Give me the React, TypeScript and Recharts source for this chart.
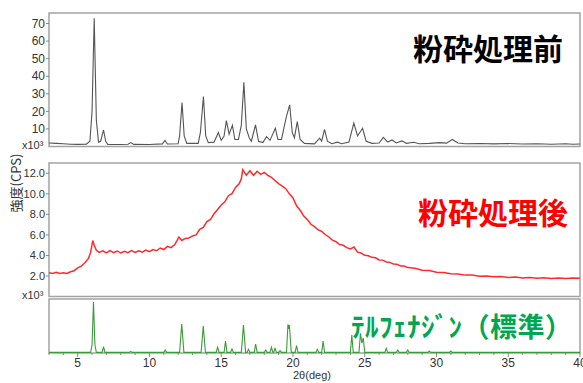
import { LineChart, Line, XAxis, YAxis, ReferenceArea } from "recharts"

// 2θ (deg), intensity (x10^3 CPS)
const beforeMilling: [number, number][] = [
  [3.0, 2.0], [3.5, 1.8], [4.0, 1.6], [4.5, 1.3], [5.0, 1.2], [5.6, 1.3], [5.85, 3], [6.0, 20], [6.15, 73],
  [6.3, 15], [6.45, 2.5], [6.6, 3], [6.8, 9.4], [6.95, 3], [7.1, 1.2], [8.0, 1.1], [8.5, 1.3], [8.7, 2.2],
  [8.9, 1.2], [10.0, 1.1], [10.9, 1.5], [11.08, 3.5], [11.25, 1.4], [12.0, 1.6], [12.1, 6], [12.27, 25],
  [12.42, 6], [12.6, 1.8], [13.4, 1.8], [13.55, 8], [13.76, 28.5], [13.92, 6], [14.1, 2.2], [14.5, 2.5],
  [14.8, 8], [15.0, 3.5], [15.2, 6], [15.36, 14.7], [15.55, 7], [15.78, 12], [15.95, 4], [16.2, 4],
  [16.4, 12], [16.58, 36.5], [16.75, 10], [16.95, 5], [17.1, 3], [17.39, 12.3], [17.6, 3], [17.9, 2.2],
  [18.16, 5.6], [18.4, 3.5], [18.77, 10.4], [18.95, 4], [19.2, 4], [19.54, 17], [19.77, 23.7], [19.95, 8],
  [20.1, 5], [20.3, 14.2], [20.5, 4], [20.8, 1.8], [21.5, 1.5], [21.86, 4.7], [22.0, 3], [22.2, 9.8],
  [22.4, 3], [22.7, 1.6], [23.1, 2.5], [23.4, 1.6], [23.9, 2.5], [24.24, 13.3], [24.5, 6], [24.85, 10.4],
  [25.1, 3], [25.5, 1.8], [26.0, 2], [26.3, 5.2], [26.6, 2.5], [26.9, 3.7], [27.2, 2], [27.6, 3.2],
  [27.9, 1.8], [28.4, 2.4], [28.8, 1.6], [29.5, 1.8], [30.2, 2.2], [30.7, 1.9], [31.1, 4], [31.5, 2],
  [32.0, 1.6], [33.0, 1.7], [34.0, 1.5], [35.0, 1.7], [36.0, 1.4], [37.0, 1.6], [38.0, 1.3], [39.0, 1.6],
  [39.5, 1.3], [40.0, 1.4],
]

const afterMilling: [number, number][] = [
  [3.0, 2.32], [3.25, 2.26], [3.5, 2.36], [3.75, 2.24], [4.0, 2.31], [4.25, 2.25], [4.5, 2.42], [4.75, 2.52],
  [5.0, 2.8], [5.25, 2.96], [5.5, 3.3], [5.75, 3.72], [5.9, 4.3], [6.05, 5.45], [6.15, 5.0], [6.3, 4.5],
  [6.5, 4.3], [6.75, 4.46], [7.0, 4.26], [7.25, 4.48], [7.5, 4.28], [7.75, 4.44], [8.0, 4.24], [8.25, 4.41],
  [8.5, 4.27], [8.75, 4.48], [9.0, 4.3], [9.25, 4.46], [9.5, 4.33], [9.75, 4.52], [10.0, 4.37], [10.25, 4.58],
  [10.5, 4.46], [10.75, 4.73], [11.0, 4.58], [11.25, 4.89], [11.5, 4.76], [11.75, 5.04], [11.9, 5.4],
  [12.05, 5.8], [12.25, 5.46], [12.5, 5.66], [12.75, 5.7], [13.0, 5.9], [13.25, 6.0], [13.5, 6.55],
  [13.75, 6.74], [14.0, 7.3], [14.25, 7.5], [14.5, 8.06], [14.75, 8.48], [15.0, 8.92], [15.25, 9.22],
  [15.5, 9.82], [15.75, 10.02], [16.0, 10.62], [16.25, 10.98], [16.4, 11.45], [16.5, 12.35], [16.75, 11.82],
  [17.0, 12.25], [17.25, 11.8], [17.5, 12.2], [17.75, 11.9], [18.0, 12.08], [18.25, 11.8], [18.5, 11.6],
  [18.75, 11.3], [19.0, 11.0], [19.25, 10.74], [19.5, 10.5], [19.75, 10.0], [20.0, 9.6], [20.25, 8.84],
  [20.5, 8.4], [20.75, 7.84], [21.0, 7.5], [21.25, 7.04], [21.5, 6.8], [21.75, 6.5], [22.0, 6.35],
  [22.25, 6.04], [22.5, 5.8], [22.75, 5.5], [23.0, 5.34], [23.25, 5.06], [23.5, 4.99], [23.75, 4.76],
  [24.0, 4.64], [24.25, 4.82], [24.5, 4.32], [24.75, 4.24], [25.0, 4.02], [25.25, 3.98], [25.5, 3.82],
  [25.75, 3.78], [26.0, 3.57], [26.25, 3.55], [26.5, 3.37], [26.75, 3.33], [27.0, 3.17], [27.25, 3.15],
  [27.5, 2.97], [27.75, 2.98], [28.0, 2.82], [28.5, 2.75], [29.0, 2.57], [29.5, 2.53], [30.0, 2.37],
  [30.5, 2.35], [31.0, 2.22], [31.5, 2.21], [32.0, 2.09], [32.5, 2.09], [33.0, 1.99], [33.5, 2.01],
  [34.0, 1.92], [34.5, 1.95], [35.0, 1.87], [35.5, 1.91], [36.0, 1.82], [36.5, 1.86], [37.0, 1.79],
  [37.5, 1.83], [38.0, 1.77], [38.5, 1.81], [39.0, 1.77], [39.5, 1.81], [40.0, 1.78],
]

const reference: [number, number][] = [
  [3, 0.6], [5.9, 0.6], [6.0, 8], [6.1, 51], [6.2, 8], [6.3, 0.6], [6.7, 0.6], [6.8, 6.3], [6.9, 0.6],
  [8.6, 0.6], [8.7, 1.5], [8.8, 0.6], [11.0, 0.6], [11.1, 3], [11.2, 0.6], [12.1, 0.6], [12.25, 29],
  [12.4, 0.6], [13.6, 0.6], [13.75, 27], [13.9, 0.6], [14.65, 0.6], [14.75, 5.7], [14.85, 0.6],
  [15.2, 0.6], [15.3, 12], [15.4, 0.6], [15.65, 0.6], [15.75, 4], [15.85, 0.6], [16.4, 0.6], [16.55, 28],
  [16.7, 0.6], [16.8, 0.6], [16.9, 3.7], [17.0, 0.6], [17.3, 0.6], [17.4, 9], [17.5, 0.6], [18.0, 0.6],
  [18.1, 3], [18.2, 0.6], [18.4, 0.6], [18.5, 5.7], [18.6, 0.6], [18.65, 0.6], [18.75, 4.7], [18.85, 0.6],
  [19.0, 0.6], [19.1, 2.3], [19.2, 0.6], [19.55, 0.6], [19.65, 28.7], [19.7, 24], [19.75, 28],
  [19.88, 0.6], [20.15, 0.6], [20.25, 7.3], [20.35, 0.6], [21.6, 0.6], [21.7, 3.7], [21.8, 0.6],
  [22.0, 0.6], [22.1, 12], [22.2, 0.6], [24.0, 0.6], [24.1, 18], [24.2, 0.6], [24.6, 0.6], [24.7, 19.7],
  [24.8, 10], [24.9, 15], [25.0, 0.6], [26.4, 0.6], [26.5, 4.7], [26.6, 0.6], [27.2, 0.6], [27.3, 3],
  [27.4, 0.6], [27.9, 0.6], [28.0, 3], [28.1, 0.6], [29.4, 0.6], [29.5, 2], [29.6, 0.6], [30.9, 0.6],
  [31.0, 2], [31.1, 0.6], [40, 0.6],
]

const beforeTicks = [10, 20, 30, 40, 50, 60, 70]
const afterTicks = [2, 4, 6, 8, 10, 12]
const thetaTicks = Array.from({ length: 38 }, (_, i) => i + 3)

const toRows = (pts: [number, number][]) => pts.map(([t, v]) => ({ t, v }))

const FONT = "'Liberation Sans', Arial, sans-serif"
const JP = "'Noto Sans CJK JP', sans-serif"
const FRAME = "#a3a3a3"

function ThetaTick(props: any) {
  const { x, y, payload } = props
  const major = payload.value % 5 === 0
  return (
    <g>
      <line x1={x} x2={x} y1={y} y2={y + (major ? 4 : 2)} stroke="#888" />
      {major && (
        <text x={x} y={y + 14} textAnchor="middle" fontSize={12} fill="#333" fontFamily={FONT}>
          {payload.value}
        </text>
      )}
    </g>
  )
}

const label = (text: string, left: number, top: number, style: any = {}) => (
  <div style={{ position: "absolute", left, top, whiteSpace: "nowrap", ...style }}>{text}</div>
)

export default function App() {
  return (
    <div style={{ position: "absolute", left: 0, top: 0, width: 583, height: 383, background: "#fff", overflow: "hidden" }}>
      <div style={{ position: "absolute", left: 0, top: 0 }}>
        <LineChart width={583} height={150} data={toRows(beforeMilling)} margin={{ top: 13, right: 3, bottom: 3.5, left: 0 }}>
          <XAxis type="number" dataKey="t" domain={[3, 40]} hide allowDataOverflow />
          <YAxis
            type="number"
            domain={[0, 76]}
            ticks={beforeTicks}
            interval={0}
            width={49}
            axisLine={false}
            tickSize={3}
            tickMargin={1}
            tickLine={{ stroke: "#888" }}
            tick={{ fontSize: 12, fill: "#333", fontFamily: FONT }}
          />
          <ReferenceArea x1={3} x2={40} y1={0} y2={76} fill="none" stroke={FRAME} strokeWidth={1.5} />
          <Line type="linear" dataKey="v" stroke="#555" strokeWidth={1.1} dot={false} isAnimationActive={false} />
        </LineChart>
      </div>

      <div style={{ position: "absolute", left: 0, top: 150 }}>
        <LineChart width={583} height={150} data={toRows(afterMilling)} margin={{ top: 13, right: 3, bottom: 3.4, left: 0 }}>
          <XAxis type="number" dataKey="t" domain={[3, 40]} hide allowDataOverflow />
          <YAxis
            type="number"
            domain={[0, 13]}
            ticks={afterTicks}
            interval={0}
            width={49}
            axisLine={false}
            tickSize={3}
            tickMargin={1}
            tickLine={{ stroke: "#888" }}
            tickFormatter={(v: number) => v.toFixed(1)}
            tick={{ fontSize: 11, fill: "#333", fontFamily: FONT }}
          />
          <ReferenceArea x1={3} x2={40} y1={0} y2={13} fill="none" stroke={FRAME} strokeWidth={1.5} />
          <Line type="linear" dataKey="v" stroke="#ff2a2a" strokeWidth={1.5} dot={false} isAnimationActive={false} />
        </LineChart>
      </div>

      <div style={{ position: "absolute", left: 0, top: 290 }}>
        <LineChart width={583} height={93} data={toRows(reference)} margin={{ top: 9, right: 3, bottom: 0, left: 49 }}>
          <XAxis
            type="number"
            dataKey="t"
            domain={[3, 40]}
            ticks={thetaTicks}
            interval={0}
            height={30}
            axisLine={false}
            tickLine={false}
            tickSize={0}
            tickMargin={0}
            tick={<ThetaTick />}
          />
          <YAxis type="number" domain={[0, 54]} hide />
          <ReferenceArea x1={3} x2={40} y1={0} y2={54} fill="none" stroke={FRAME} strokeWidth={1.5} />
          <Line type="linear" dataKey="v" stroke="#3b9b3b" strokeWidth={1.1} dot={false} isAnimationActive={false} />
        </LineChart>
      </div>

      {label("x10³", 22, 139, { fontSize: 11, color: "#333", fontFamily: FONT })}
      {label("x10³", 22, 289, { fontSize: 11, color: "#333", fontFamily: FONT })}
      {label("2θ(deg)", 293, 369, { fontSize: 11, color: "#333", fontFamily: FONT })}
      <div
        style={{
          position: "absolute",
          left: 15,
          top: 183,
          transform: "translate(-50%, -50%) rotate(-90deg)",
          fontSize: 13,
          color: "#333",
          fontFamily: JP,
          whiteSpace: "nowrap",
        }}
      >
        強度(CPS)
      </div>

      {label("粉砕処理前", 413, 27, { fontSize: 30, fontWeight: 700, color: "#000", fontFamily: JP, lineHeight: "40px" })}
      {label("粉砕処理後", 418, 191, { fontSize: 30, fontWeight: 700, color: "#ff0000", fontFamily: JP, lineHeight: "40px" })}
      {label("ﾃﾙﾌｪﾅｼﾞﾝ（標準）", 351, 308, {
        fontSize: 27,
        fontWeight: 700,
        color: "#00a651",
        fontFamily: JP,
        lineHeight: "36px",
        letterSpacing: 0.5,
      })}
    </div>
  )
}
